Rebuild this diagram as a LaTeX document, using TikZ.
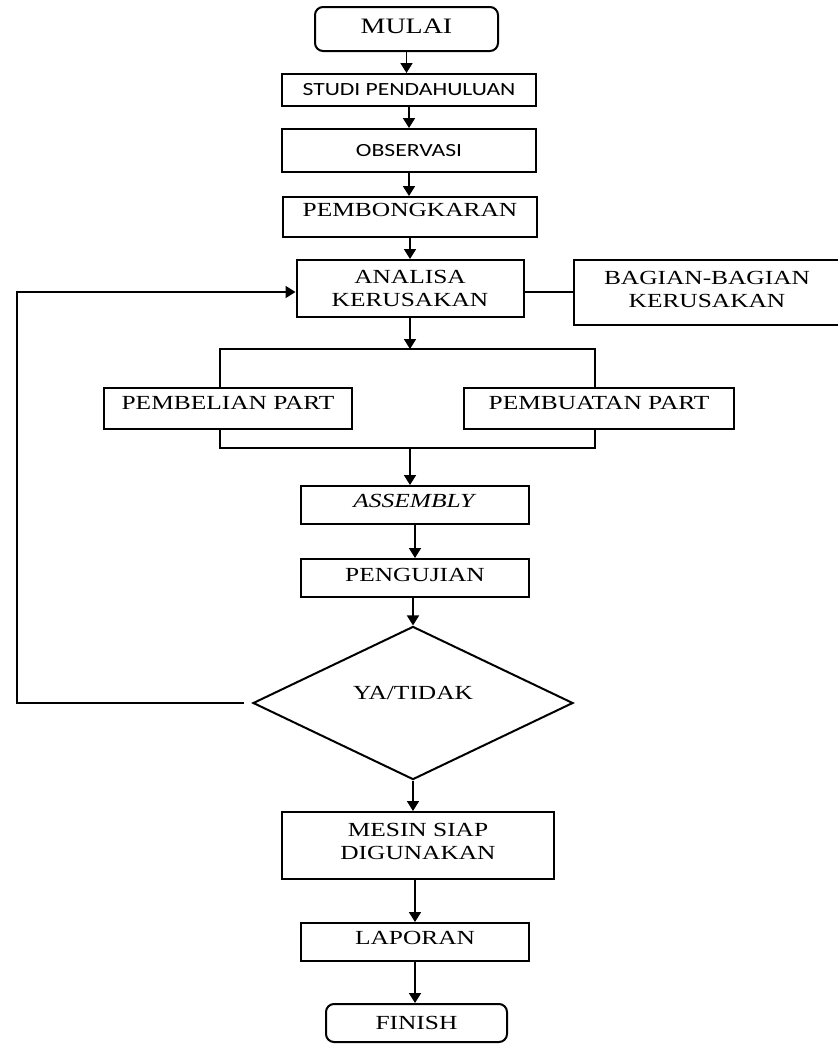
\documentclass[tikz,border=0pt]{standalone}
\usepackage{fontspec}
\setmainfont[FakeStretch=1.27]{Liberation Serif}
\newfontfamily\calib[FakeStretch=1.27]{Carlito}
\usepackage{tikz}
\usetikzlibrary{arrows.meta,shapes.geometric}
\tikzset{
  ar/.style={-{Triangle[length=5pt,width=6pt]},line width=0.9pt},
  ln/.style={line width=0.9pt},
  box/.style={draw,line width=1pt,align=center,inner sep=1pt,font=\fontsize{10}{11.5}\selectfont},
  rbox/.style={box,rounded corners=4pt},
  sbox/.style={box,font=\calib\fontsize{9.3}{11}\selectfont},
  dec/.style={draw,diamond,line width=1pt,inner sep=0pt,align=center,font=\fontsize{10}{11.5}\selectfont}
}
\begin{document}
\begin{tikzpicture}[x=0.5pt,y=-0.5pt]
\useasboundingbox (0,0) rectangle (837,1045);
\node[rbox,minimum width=91.5pt,minimum height=22pt,text depth=3pt,font=\fontsize{11}{13}\selectfont] (mulai) at (406.5,29) {MULAI};
\node[sbox,minimum width=127pt,minimum height=16pt] (studi) at (409,90) {STUDI PENDAHULUAN};
\node[sbox,minimum width=127pt,minimum height=21.5pt] (obs) at (409,150.5) {OBSERVASI};
\node[box,minimum width=127pt,minimum height=20pt,text depth=7pt] (bongkar) at (410,217) {PEMBONGKARAN};
\node[box,minimum width=113.5pt,minimum height=28.5pt] (analisa) at (410,288.5) {ANALISA\\KERUSAKAN};
\node[box,minimum width=133pt,minimum height=32.5pt,text depth=3pt] (bagian) at (707,292.5) {BAGIAN-BAGIAN\\KERUSAKAN};
\node[box,minimum width=124pt,minimum height=20.5pt,text depth=5.5pt] (beli) at (228,408.5) {PEMBELIAN PART};
\node[box,minimum width=135pt,minimum height=20.5pt,text depth=5.5pt] (buat) at (599,408.5) {PEMBUATAN PART};
\node[box,minimum width=114pt,minimum height=19pt,text depth=4pt] (assembly) at (415,505) {\textit{ASSEMBLY}};
\node[box,minimum width=114pt,minimum height=19pt,text depth=3pt] (uji) at (415,578) {PENGUJIAN};
\node[dec,minimum width=160pt,minimum height=71.5pt,text depth=10pt] (cek) at (413,703) {YA/TIDAK};
\node[box,minimum width=136pt,minimum height=33.5pt,text depth=4pt] (mesin) at (418,845.5) {MESIN SIAP\\DIGUNAKAN};
\node[box,minimum width=114pt,minimum height=19pt,text depth=4pt] (laporan) at (415,942) {LAPORAN};
\node[rbox,minimum width=90.5pt,minimum height=19pt] (finish) at (416.5,1023) {FINISH};
\coordinate (split) at (410,349);
\coordinate (brL) at (220,349);
\coordinate (brR) at (595,349);
\coordinate (joinL) at (220,448);
\coordinate (joinR) at (595,448);
\coordinate (join) at (410,448);
\coordinate (back) at (17,703);
\draw[ar] (mulai.south) -- (mulai.south |- studi.north);
\draw[ar] (studi) -- (obs);
\draw[ar] (obs.south) -- (obs.south |- bongkar.north);
\draw[ar] (bongkar.south) -- (bongkar.south |- analisa.north);
\draw[ln] ([yshift=-1.75pt]analisa.east) -- ([yshift=-1.75pt]analisa.east -| bagian.west);
\draw[ar] (analisa.south) -- (split);
\draw[ln] (beli.north -| brL) -- (brL) -- (brR) -- (buat.north -| brR);
\draw[ln] (beli.south -| joinL) -- (joinL) -- (joinR) -- (buat.south -| joinR);
\draw[ar] (join) -- (join |- assembly.north);
\draw[ar] (assembly) -- (uji);
\draw[ar] (uji.south -| cek.north) -- (cek.north);
\draw[ar] (cek.south) -- (cek.south |- mesin.north);
\draw[ar] (laporan.north |- mesin.south) -- (laporan.north);
\draw[ar] (laporan.south) -- (laporan.south |- finish.north);
% back to the analysis step
\draw[ar] ([xshift=-4pt]cek.west) -- (back) |- ([yshift=-1.75pt]analisa.west);
\end{tikzpicture}
\end{document}
